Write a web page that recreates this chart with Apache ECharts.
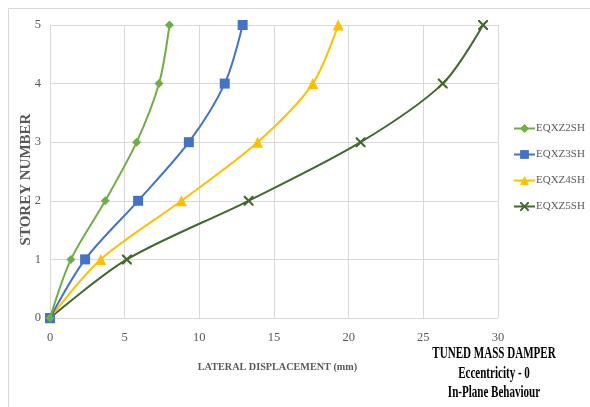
<!DOCTYPE html>
<html><head><meta charset="utf-8">
<script src="https://cdn.jsdelivr.net/npm/echarts@6/dist/echarts.min.js"></script>
<style>html,body{margin:0;padding:0;background:#fff}#c{width:590px;height:407px}</style>
</head><body><div id="c"></div>
<script>
const storeys = [0, 1, 2, 3, 4, 5];
const eqxz2sh = [0, 1.4, 3.7, 5.8, 7.3, 8.0];
const eqxz3sh = [0, 2.35, 5.9, 9.3, 11.7, 12.9];
const eqxz4sh = [0, 3.4, 8.8, 13.9, 17.6, 19.3];
const eqxz5sh = [0, 5.15, 13.3, 20.8, 26.3, 29.0];
const seriesNames = ['EQXZ2SH', 'EQXZ3SH', 'EQXZ4SH', 'EQXZ5SH'];
const titleLines = ['TUNED MASS DAMPER', 'Eccentricity - 0', 'In-Plane Behaviour'];

const F = '"Liberation Serif", "DejaVu Serif", serif';
const xMark = 'path://M0,0L1.5,0L5,3.5L8.5,0L10,0L10,1.5L6.5,5L10,8.5L10,10L8.5,10L5,6.5L1.5,10L0,10L0,8.5L3.5,5L0,1.5Z';
const colors = ['#70AD47', '#4472C4', '#FFC000', '#43682B'];
const symbols = ['diamond', 'rect', 'triangle', xMark];
const sizes = [9, 10, 11, 10];
const all = [eqxz2sh, eqxz3sh, eqxz4sh, eqxz5sh];

const chart = echarts.init(document.getElementById('c'));
chart.setOption({
  animation: false,
  grid: {left: 50, right: 92, top: 25, bottom: 89},
  xAxis: {
    type: 'value', min: 0, max: 30, interval: 5,
    name: 'LATERAL DISPLACEMENT (mm)', nameLocation: 'middle', nameGap: 44,
    nameTextStyle: {fontFamily: F, fontWeight: 'bold', fontSize: 10.2, color: '#595959', padding: [0, 0, 0, 7]},
    axisLine: {show: false}, axisTick: {show: false},
    axisLabel: {fontFamily: F, fontSize: 12.5, color: '#595959', margin: 13},
    splitLine: {show: true, lineStyle: {color: '#D9D9D9', width: 1}}
  },
  yAxis: {
    type: 'value', min: 0, max: 5, interval: 1,
    name: 'STOREY NUMBER', nameLocation: 'middle', nameGap: 16, nameMoveOverlap: false,
    nameTextStyle: {fontFamily: F, fontWeight: 'bold', fontSize: 15, color: '#595959', padding: [0, 16, 0, 0]},
    axisLine: {show: false}, axisTick: {show: false},
    axisLabel: {fontFamily: F, fontSize: 12.5, color: '#595959', margin: 9},
    splitLine: {show: true, lineStyle: {color: '#D9D9D9', width: 1}}
  },
  legend: {
    orient: 'vertical', left: 508, top: 118, itemGap: 15,
    itemWidth: 21, itemHeight: 11,
    textStyle: {fontFamily: F, fontSize: 11, color: '#595959', padding: [0, 0, 0, -4]},
    data: seriesNames
  },
  graphic: [
    {type: 'rect', shape: {x: 8.5, y: 8.5, width: 700, height: 500}, style: {fill: 'none', stroke: '#D9D9D9', lineWidth: 1}, silent: true, z: -10},
    ...titleLines.map((t, i) => ({
      type: 'text', x: 494, y: 354 + i * 19.5, scaleX: 0.69,
      style: {text: t, fontFamily: F, fontWeight: 'bold', fontSize: 16, fill: '#000', align: 'center', verticalAlign: 'middle'}
    }))
  ],
  series: all.map((arr, i) => ({
    name: seriesNames[i], type: 'line', smooth: 0.3,
    data: arr.map((v, j) => [v, storeys[j]]),
    symbol: symbols[i], symbolSize: sizes[i], showSymbol: true,
    lineStyle: {color: colors[i], width: 2},
    itemStyle: {color: colors[i]},
    z: 10 - i
  }))
});
</script></body></html>
